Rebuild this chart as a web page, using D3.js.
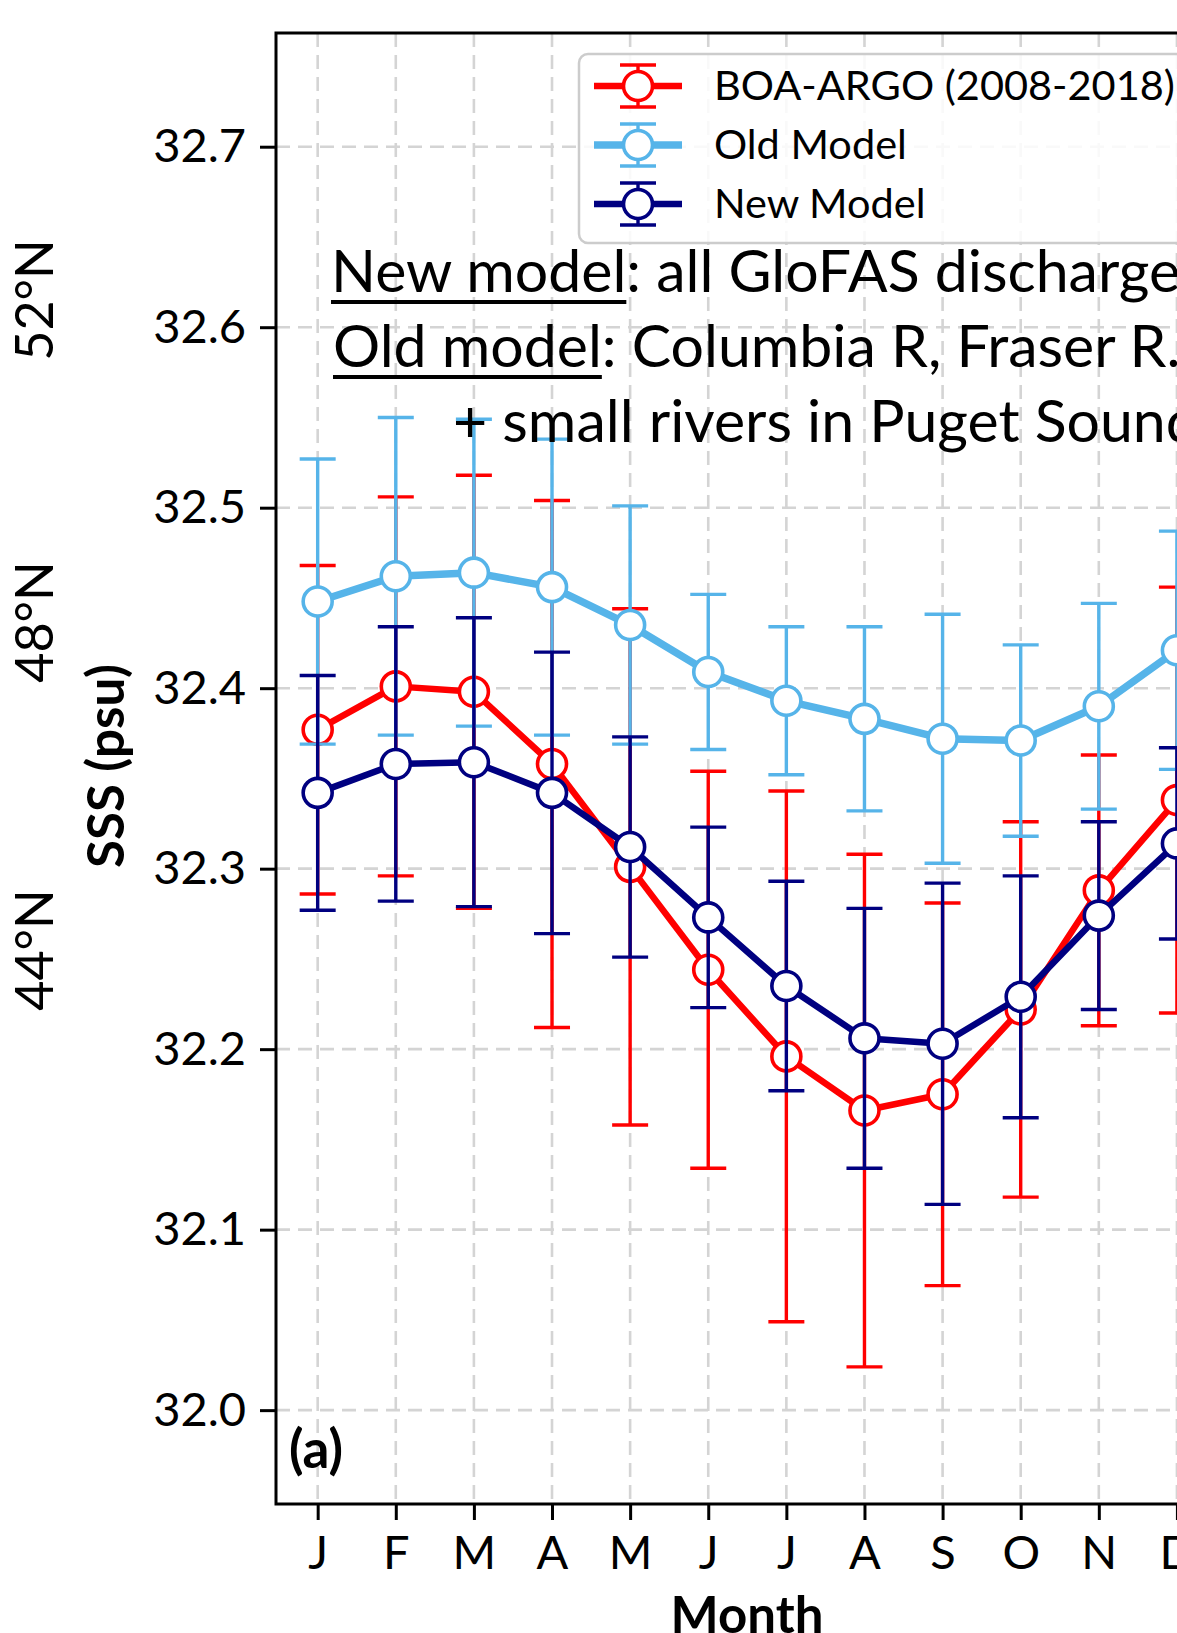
<!DOCTYPE html>
<html>
<head>
<meta charset="utf-8">
<script src="https://cdn.jsdelivr.net/npm/d3@7"></script>
<style>
  body { margin: 0; background: #fff; }
  svg { display: block; overflow: hidden; }
</style>
</head>
<body>
<script>
// monthly SSS climatology, mean +/- spread (psu)
const months = ["J", "F", "M", "A", "M", "J", "J", "A", "S", "O", "N", "D"];
const yTicks = [32.0, 32.1, 32.2, 32.3, 32.4, 32.5, 32.6, 32.7];
const latLabels = ["52°N", "48°N", "44°N"];

const argoMean = [32.377, 32.401, 32.398, 32.358, 32.301, 32.244, 32.196, 32.166, 32.175, 32.222, 32.288, 32.338];
const argoErr  = [0.091, 0.105, 0.120, 0.146, 0.143, 0.110, 0.147, 0.142, 0.106, 0.104, 0.075, 0.118];

const oldMean = [32.448, 32.462, 32.464, 32.456, 32.435, 32.409, 32.393, 32.383, 32.372, 32.371, 32.390, 32.421];
const oldErr  = [0.079, 0.088, 0.085, 0.082, 0.066, 0.043, 0.041, 0.051, 0.069, 0.053, 0.057, 0.066];

const newMean = [32.342, 32.358, 32.359, 32.342, 32.312, 32.273, 32.235, 32.206, 32.203, 32.229, 32.274, 32.314];
const newErr  = [0.065, 0.076, 0.080, 0.078, 0.061, 0.050, 0.058, 0.072, 0.089, 0.067, 0.052, 0.053];

const series = [
  { name: "BOA-ARGO (2008-2018)", mean: argoMean, err: argoErr, color: "#ff0000", lw: 6.5 },
  { name: "Old Model", mean: oldMean, err: oldErr, color: "#56b4e9", lw: 7.5 },
  { name: "New Model", mean: newMean, err: newErr, color: "#000080", lw: 6.5 }
];

const width = 1177, height = 1633;
const plot = { left: 276, right: 1218.6, top: 33, bottom: 1504 };

const svg = d3.select("body").append("svg")
  .attr("width", width)
  .attr("height", height);

const x = d3.scaleLinear().domain([0.4665, 12.5335]).range([plot.left, plot.right]);
const y = d3.scaleLinear().domain([31.948, 32.763]).range([plot.bottom, plot.top]);

// grid
const grid = svg.append("g")
  .attr("stroke", "#d4d4d4")
  .attr("stroke-width", 2.6)
  .attr("stroke-dasharray", "14,8");
grid.selectAll("line.h").data(yTicks).enter().append("line")
  .attr("x1", plot.left).attr("x2", plot.right)
  .attr("y1", d => y(d)).attr("y2", d => y(d));
grid.selectAll("line.v").data(months).enter().append("line")
  .attr("x1", (d, i) => x(i + 1)).attr("x2", (d, i) => x(i + 1))
  .attr("y1", plot.top).attr("y2", plot.bottom);

// axes
const yAxis = svg.append("g")
  .attr("transform", `translate(${plot.left},0)`)
  .call(d3.axisLeft(y).tickValues(yTicks).tickFormat(d3.format(".1f")).tickSize(16).tickPadding(14));
const xAxis = svg.append("g")
  .attr("transform", `translate(0,${plot.bottom})`)
  .call(d3.axisBottom(x).tickValues(d3.range(1, 13)).tickFormat(d => months[d - 1]).tickSize(16).tickPadding(16));
[yAxis, xAxis].forEach(a => {
  a.select(".domain").remove();
  a.selectAll(".tick line").attr("stroke", "#000").attr("stroke-width", 3);
  a.selectAll("text")
    .attr("fill", "#000")
    .style("font-family", "Lato, sans-serif")
    .style("font-size", "47px");
});

// series: error bars, line, open markers
const capHalf = 18;
series.forEach(s => {
  const g = svg.append("g");
  const bars = g.selectAll("g.bar").data(s.mean).enter().append("g")
    .attr("stroke", s.color).attr("stroke-width", 3.4);
  bars.append("line")
    .attr("x1", (d, i) => x(i + 1)).attr("x2", (d, i) => x(i + 1))
    .attr("y1", (d, i) => y(d + s.err[i])).attr("y2", (d, i) => y(d - s.err[i]));
  bars.append("line")
    .attr("x1", (d, i) => x(i + 1) - capHalf).attr("x2", (d, i) => x(i + 1) + capHalf)
    .attr("y1", (d, i) => y(d + s.err[i])).attr("y2", (d, i) => y(d + s.err[i]));
  bars.append("line")
    .attr("x1", (d, i) => x(i + 1) - capHalf).attr("x2", (d, i) => x(i + 1) + capHalf)
    .attr("y1", (d, i) => y(d - s.err[i])).attr("y2", (d, i) => y(d - s.err[i]));

  g.append("path")
    .datum(s.mean)
    .attr("fill", "none")
    .attr("stroke", s.color)
    .attr("stroke-width", s.lw)
    .attr("stroke-linejoin", "round")
    .attr("d", d3.line().x((d, i) => x(i + 1)).y(d => y(d)));

  g.selectAll("circle").data(s.mean).enter().append("circle")
    .attr("cx", (d, i) => x(i + 1)).attr("cy", d => y(d))
    .attr("r", 14.5)
    .attr("fill", "#fff")
    .attr("stroke", s.color)
    .attr("stroke-width", 3.6);
});

// frame
svg.append("rect")
  .attr("x", plot.left).attr("y", plot.top)
  .attr("width", plot.right - plot.left).attr("height", plot.bottom - plot.top)
  .attr("fill", "none").attr("stroke", "#000").attr("stroke-width", 3);

// legend
const legend = svg.append("g");
legend.append("rect")
  .attr("x", 579).attr("y", 54).attr("width", 700).attr("height", 189)
  .attr("rx", 9)
  .attr("fill", "#fff").attr("fill-opacity", 0.85)
  .attr("stroke", "#cccccc").attr("stroke-width", 2.5);
series.forEach((s, i) => {
  const cy = 86 + i * 59, cx = 638;
  const item = legend.append("g");
  item.append("line").attr("x1", 594).attr("x2", 682).attr("y1", cy).attr("y2", cy)
    .attr("stroke", s.color).attr("stroke-width", s.lw);
  item.append("line").attr("x1", cx).attr("x2", cx).attr("y1", cy - 21).attr("y2", cy + 21)
    .attr("stroke", s.color).attr("stroke-width", 3.4);
  [cy - 21, cy + 21].forEach(yy => item.append("line")
    .attr("x1", cx - capHalf).attr("x2", cx + capHalf).attr("y1", yy).attr("y2", yy)
    .attr("stroke", s.color).attr("stroke-width", 3.4));
  item.append("circle").attr("cx", cx).attr("cy", cy).attr("r", 14.5)
    .attr("fill", "#fff").attr("stroke", s.color).attr("stroke-width", 3.6);
  item.append("text").attr("x", 714).attr("y", cy + 14)
    .style("font-family", "Lato, sans-serif").style("font-size", "41.5px")
    .text(s.name);
});

// annotation
const noteLines = [
  { u: "New model", rest: ": all GloFAS discharge", x: 331, y: 292 },
  { u: "Old model", rest: ": Columbia R, Fraser R.", x: 333, y: 367 },
  { u: "", rest: "+ small rivers in Puget Sound", x: 453, y: 442 }
];
noteLines.forEach(l => {
  const t = svg.append("text")
    .attr("x", l.x).attr("y", l.y)
    .style("font-family", "Lato, sans-serif").style("font-size", "59px");
  const ut = t.append("tspan").text(l.u);
  t.append("tspan").text(l.rest);
  if (l.u) {
    const w = ut.node().getComputedTextLength();
    svg.append("line").attr("x1", l.x).attr("x2", l.x + w)
      .attr("y1", l.y + 10).attr("y2", l.y + 10)
      .attr("stroke", "#000").attr("stroke-width", 3.8);
  }
});

// panel tag
svg.append("text").attr("x", 289).attr("y", 1468)
  .style("font-family", "Lato, sans-serif").style("font-weight", "bold").style("font-size", "53px")
  .text("(a)");

// axis titles
svg.append("text")
  .attr("transform", "translate(124,766) rotate(-90)")
  .attr("text-anchor", "middle")
  .style("font-family", "Lato, sans-serif").style("font-weight", "bold").style("font-size", "51px")
  .text("SSS (psu)");
svg.append("text")
  .attr("x", 747).attr("y", 1633)
  .attr("text-anchor", "middle")
  .style("font-family", "Lato, sans-serif").style("font-weight", "bold").style("font-size", "51px")
  .text("Month");

// latitude labels from the neighbouring map panel
const latY = [300, 622, 950];
svg.selectAll("text.lat").data(latLabels).enter().append("text")
  .attr("transform", (d, i) => `translate(53,${latY[i]}) rotate(-90)`)
  .attr("text-anchor", "middle")
  .style("font-family", "Lato, sans-serif").style("font-size", "52px")
  .text(d => d);
</script>
</body>
</html>
